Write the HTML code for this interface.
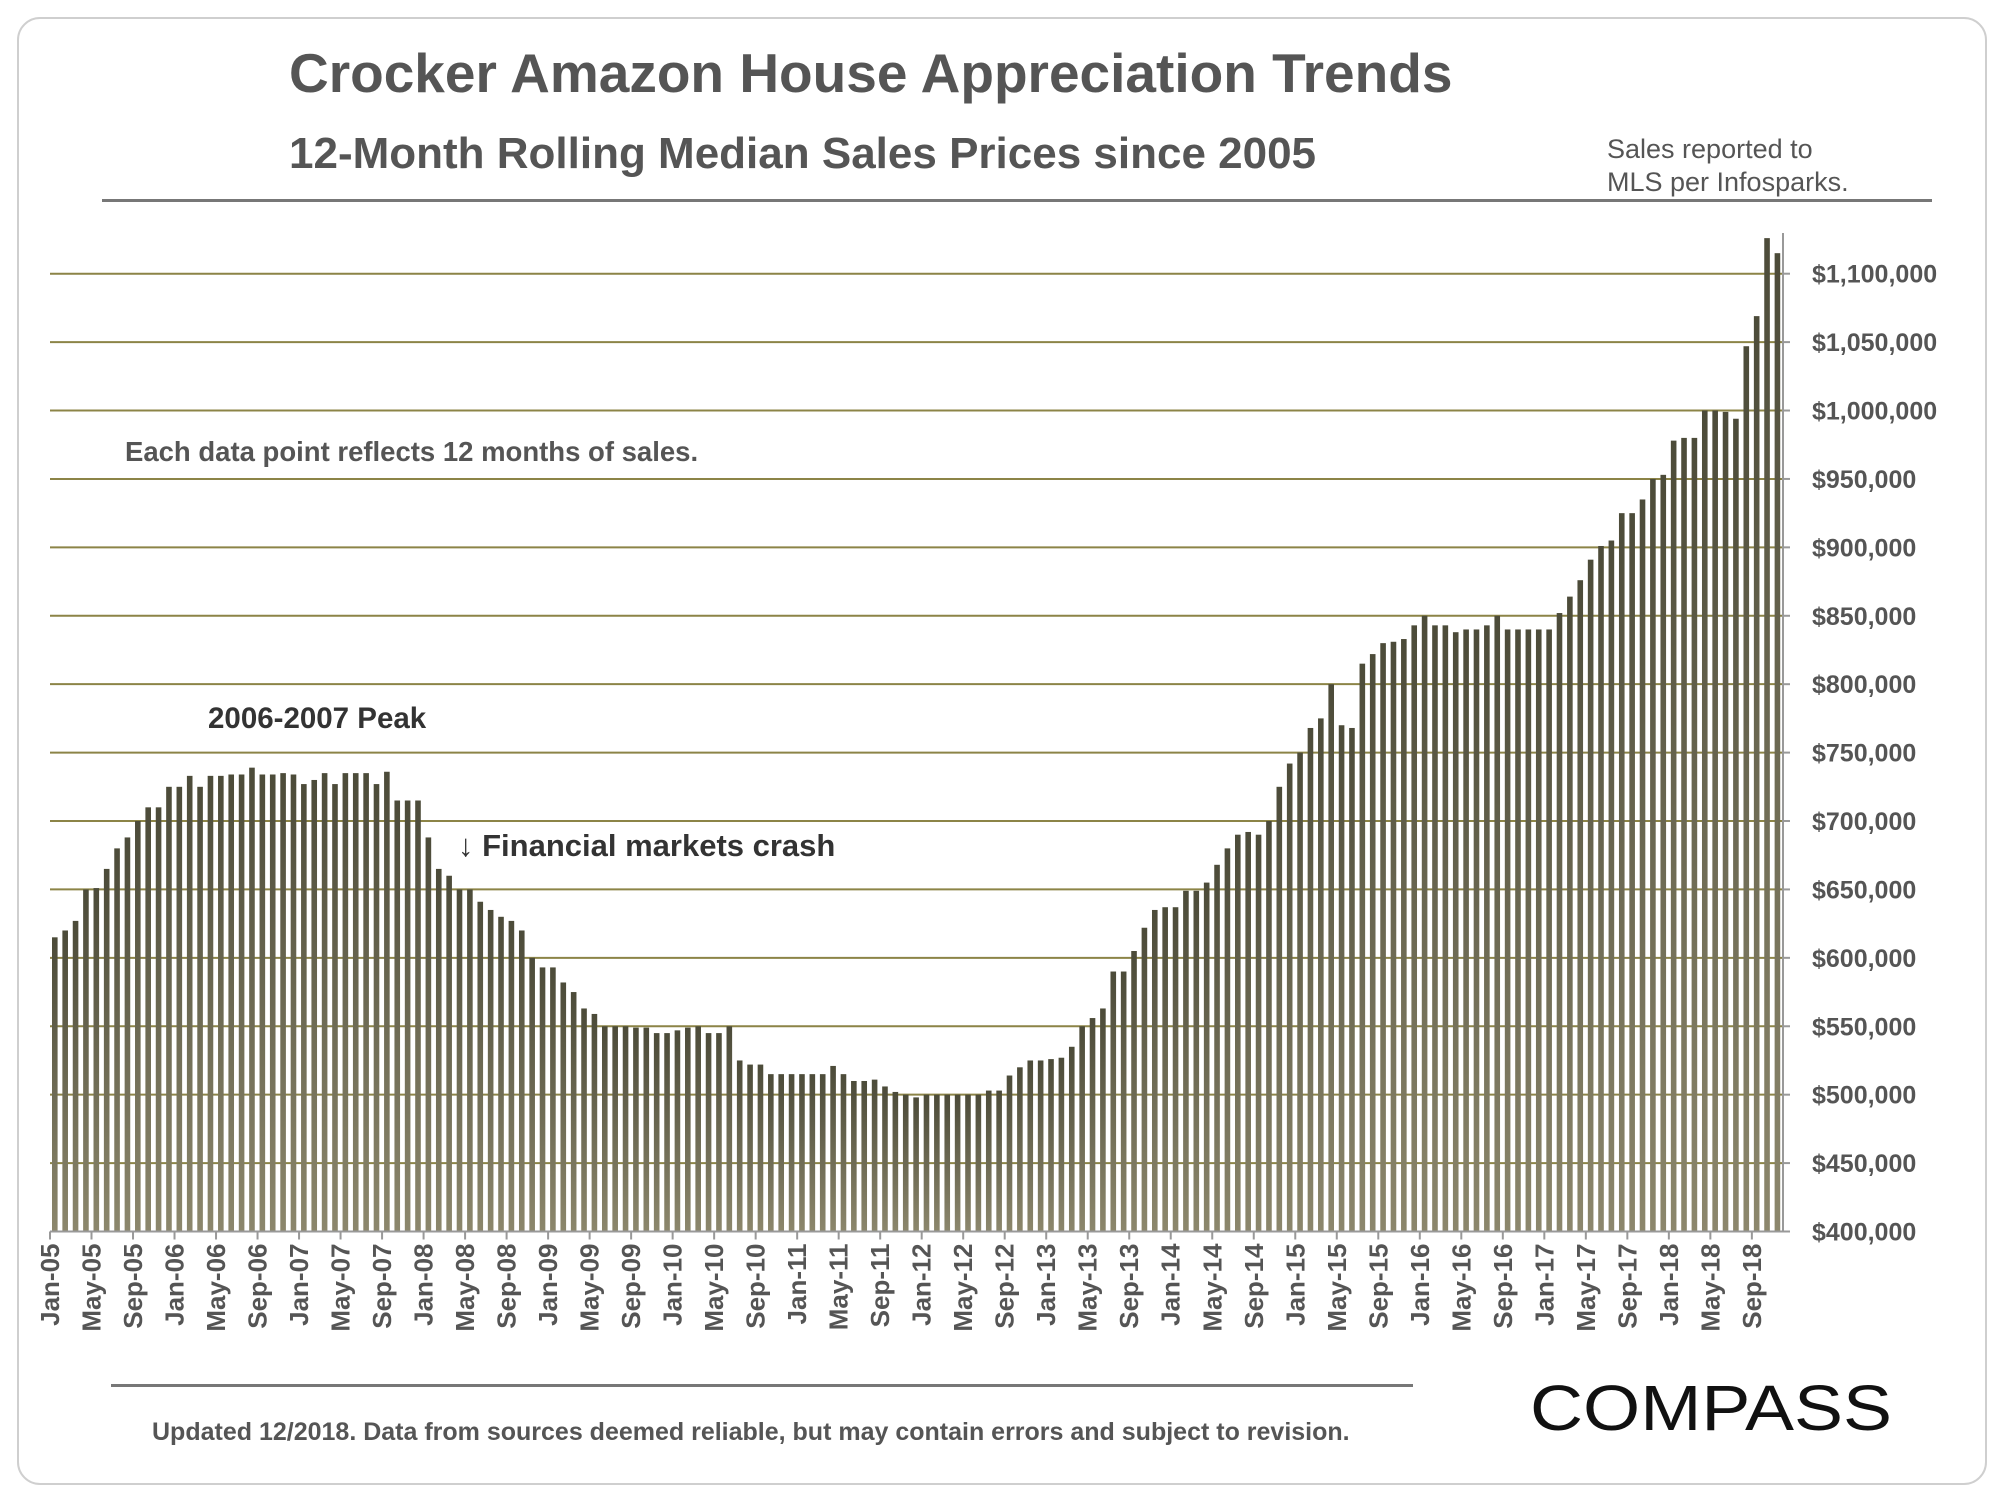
<!DOCTYPE html>
<html><head><meta charset="utf-8"><style>
html,body{margin:0;padding:0;background:#fff;}
svg{display:block;}
text{font-family:"Liberation Sans",sans-serif;}
</style></head><body>
<svg id="chart" width="2000" height="1500" viewBox="0 0 2000 1500">
<defs>
<linearGradient id="barg" x1="0" y1="0" x2="0" y2="1">
<stop offset="0" stop-color="#4c4b39"/><stop offset="1" stop-color="#8c876c"/>
</linearGradient>
</defs>
<rect x="18" y="18" width="1968" height="1466" rx="22" fill="#fff" stroke="#cfcfcf" stroke-width="2"/>
<text x="289" y="92" font-size="55" font-weight="bold" fill="#555">Crocker Amazon House Appreciation Trends</text>
<text x="289" y="168" font-size="44" font-weight="bold" fill="#555">12-Month Rolling Median Sales Prices since 2005</text>
<text x="1607" y="158" font-size="27" fill="#555">Sales reported to</text>
<text x="1607" y="191" font-size="27" fill="#555">MLS per Infosparks.</text>
<rect x="102" y="199" width="1830" height="3" fill="#777"/>
<g id="grid"></g>
<g id="bars"></g>
<g id="axes"></g>
<text x="125" y="461" font-size="27.5" font-weight="bold" fill="#555">Each data point reflects 12 months of sales.</text>
<text x="208" y="728" font-size="29.5" font-weight="bold" fill="#333">2006-2007 Peak</text>
<text x="458" y="856" font-size="31" font-weight="bold" fill="#333">↓ Financial markets crash</text>
<rect x="111" y="1384" width="1302" height="3" fill="#777"/>
<text x="152" y="1440" font-size="25" font-weight="bold" fill="#555">Updated 12/2018. Data from sources deemed reliable, but may contain errors and subject to revision.</text>
<text x="1530" y="1430" font-size="64" fill="#111" textLength="362" lengthAdjust="spacingAndGlyphs">COMPASS</text>
</svg>
<script>
const years = ["05","06","07","08","09","10","11","12","13","14","15","16","17","18"];
const monthNames = ["Jan","Feb","Mar","Apr","May","Jun","Jul","Aug","Sep","Oct","Nov","Dec"];
const prices2005 = [615,620,627,650,651,665,680,688,700,710,710,725];
const prices2006 = [725,733,725,733,733,734,734,739,734,734,735,734];
const prices2007 = [727,730,735,727,735,735,735,727,736,715,715,715];
const prices2008 = [688,665,660,650,650,641,635,630,627,620,600,593];
const prices2009 = [593,582,575,563,559,550,550,550,549,549,545,545];
const prices2010 = [547,549,550,545,545,550,525,522,522,515,515,515];
const prices2011 = [515,515,515,521,515,510,510,511,506,502,500,498];
const prices2012 = [500,500,500,500,500,500,503,503,514,520,525,525];
const prices2013 = [526,527,535,550,556,563,590,590,605,622,635,637];
const prices2014 = [637,649,649,655,668,680,690,692,690,700,725,742];
const prices2015 = [750,768,775,800,770,768,815,822,830,831,833,843];
const prices2016 = [850,843,843,838,840,840,843,850,840,840,840,840];
const prices2017 = [840,852,864,876,891,901,905,925,925,935,950,953];
const prices2018 = [978,980,980,1000,1000,999,994,1047,1069,1126,1115];
const yTicks = [400,450,500,550,600,650,700,750,800,850,900,950,1000,1050,1100];

const values = [].concat(prices2005,prices2006,prices2007,prices2008,prices2009,prices2010,prices2011,prices2012,prices2013,prices2014,prices2015,prices2016,prices2017,prices2018);
const categories = [];
for (let i=0;i<values.length;i++) categories.push(monthNames[i%12]+"-"+years[Math.floor(i/12)]);

const NS="http://www.w3.org/2000/svg";
const x0=50, x1=1783, yBase=1231.5, yTop=273.7;
const band=(x1-x0)/values.length;
const xs=i=>x0+i*band;
const ys=v=>yBase-(v-400)*(yBase-yTop)/700;
function mk(tag,attrs,parent){const e=document.createElementNS(NS,tag);for(const k in attrs)e.setAttribute(k,attrs[k]);parent.appendChild(e);return e;}

const grid=document.getElementById('grid');
const axes=document.getElementById('axes');
const bars=document.getElementById('bars');
yTicks.forEach(t=>{
  if(t>400){
    const l=mk('line',{x1:x0,x2:x1,y1:ys(t),y2:ys(t),stroke:'#8c8447','stroke-width':2},grid);
    
    
  }
  const tk=mk('line',{x1:x1,x2:x1+7,y1:ys(t),y2:ys(t),stroke:'#999','stroke-width':2},axes);
  
  
  const lb=mk('text',{x:1812,y:ys(t)+9,'font-size':25,'font-weight':'bold',fill:'#555'},axes);
  lb.textContent='$'+(t*1000).toLocaleString('en-US');
  
  
});
values.forEach((v,i)=>{
  const r=mk('rect',{x:xs(i)+2,y:ys(v),width:5.6,height:yBase-ys(v),fill:'url(#barg)'},bars);
  
  
});
const ax=mk('line',{x1:x0,x2:x1,y1:yBase,y2:yBase,stroke:'#999','stroke-width':2},axes);


const ay=mk('line',{x1:x1,x2:x1,y1:233,y2:yBase,stroke:'#999','stroke-width':2},axes);


for(let i=0;i<values.length;i+=4){
  const tk=mk('line',{x1:xs(i),x2:xs(i),y1:yBase,y2:yBase+8,stroke:'#999','stroke-width':2},axes);
  
  
  const lb=mk('text',{transform:'translate('+(xs(i)+9)+','+(yBase+12)+') rotate(-90)','text-anchor':'end','font-size':26,'font-weight':'bold',fill:'#555'},axes);
  lb.textContent=categories[i];
  
  
}
</script>
</body></html>
